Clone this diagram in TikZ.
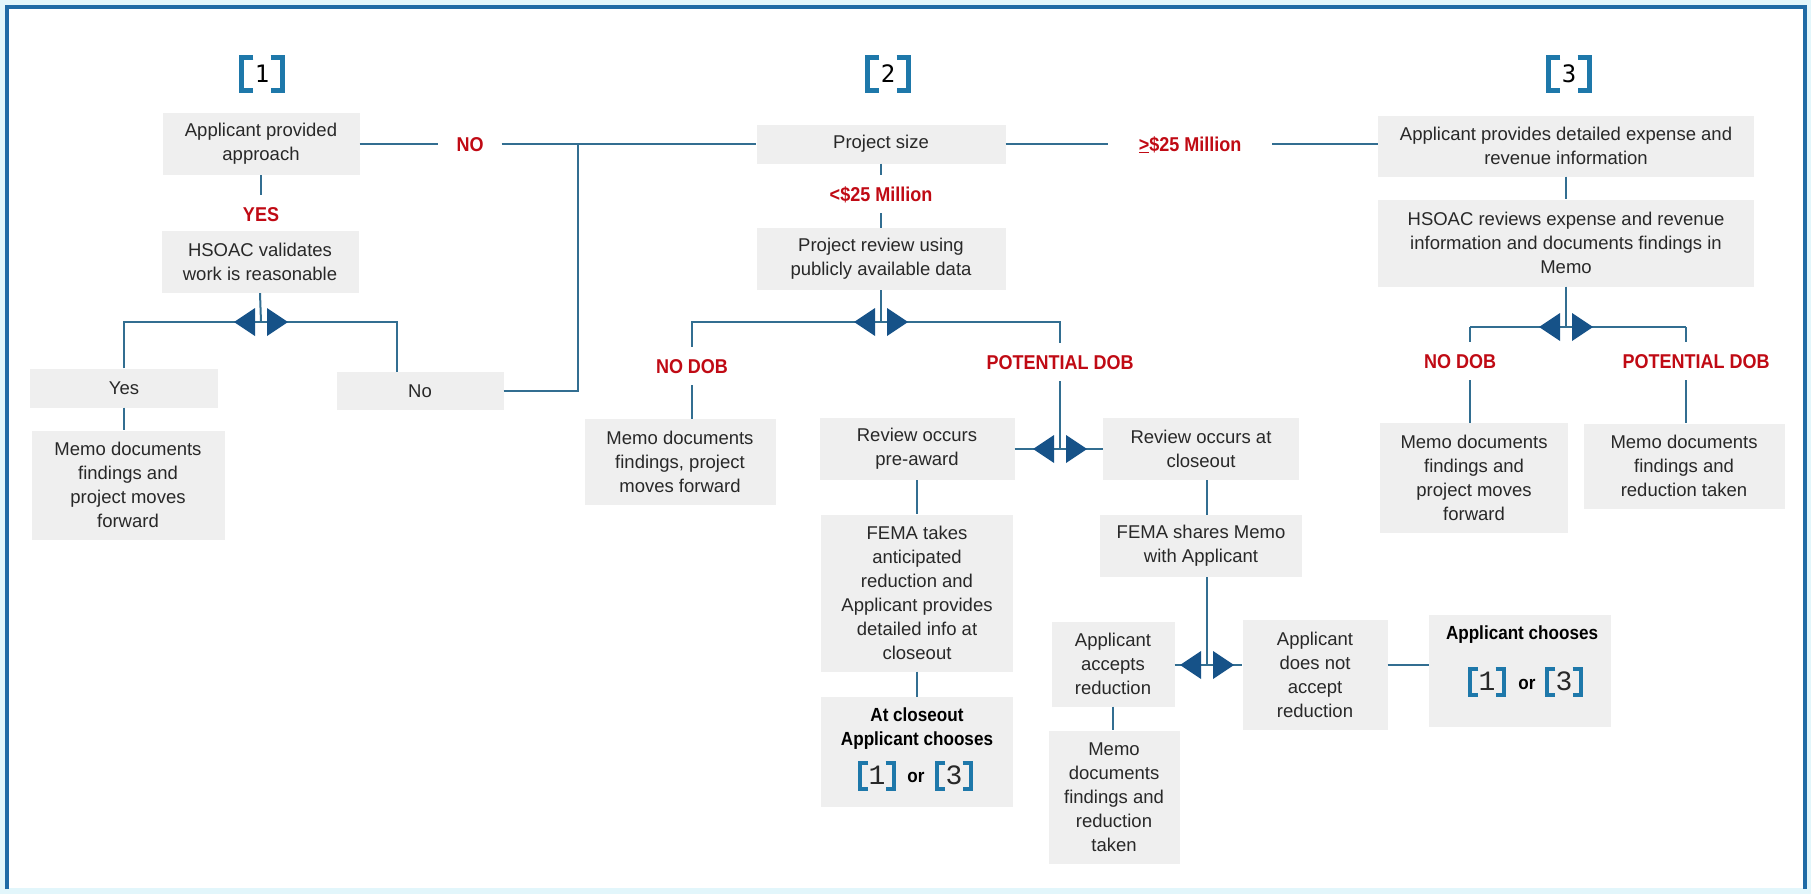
\documentclass[tikz,border=0pt]{standalone}
\usepackage{fontspec}
\setmainfont{Liberation Sans}
\newfontfamily\lblfont[FakeStretch=0.9]{Liberation Sans}
\newfontfamily\bignumfont{DejaVu Sans Mono}
\newfontfamily\smallnumfont{Liberation Mono}
\definecolor{frameblue}{RGB}{31,107,166}
\definecolor{bgcyan}{RGB}{226,246,251}
\definecolor{brkblue}{RGB}{30,120,170}
\definecolor{lineblue}{RGB}{50,110,145}
\definecolor{arrowblue}{RGB}{22,82,136}
\definecolor{redlbl}{RGB}{192,10,20}
\definecolor{boxgray}{RGB}{239,239,239}
\definecolor{txt}{RGB}{40,40,40}
\newcommand\bigbrk[3]{%
  \node[bignum] (#1) at #2 {#3};
  \draw[brkblue, line width=5pt] ([xshift=12pt]#1.north west) -- (#1.north west) -- (#1.south west) -- ([xshift=12pt]#1.south west);
  \draw[brkblue, line width=5pt] ([xshift=-12pt]#1.north east) -- (#1.north east) -- (#1.south east) -- ([xshift=-12pt]#1.south east);
}
\newcommand\smbrk[3]{%
  \node[smnum] (#1) at #2 {#3};
  \draw[brkblue, line width=4pt] ([xshift=8pt]#1.north west) -- (#1.north west) -- (#1.south west) -- ([xshift=8pt]#1.south west);
  \draw[brkblue, line width=4pt] ([xshift=-8pt]#1.north east) -- (#1.north east) -- (#1.south east) -- ([xshift=-8pt]#1.south east);
}
\begin{document}
\begin{tikzpicture}[x=1pt,y=-1pt,
  box/.style={fill=boxgray, text=txt, align=center, inner sep=0pt, font=\fontsize{18.5}{24}\selectfont},
  lbl/.style={text=redlbl, font=\lblfont\bfseries\fontsize{20}{24}\selectfont, inner xsep=18pt, inner ysep=12pt, text height=14pt, text depth=0pt},
  btxt/.style={text=black, align=center, inner sep=0pt, font=\lblfont\bfseries\fontsize{19}{24}\selectfont},
  conn/.style={draw=lineblue, line width=2pt},
  bignum/.style={minimum width=41pt, minimum height=33pt, inner sep=0pt, text height=17.5pt, text depth=0pt, text=black, font=\bignumfont\fontsize{24}{24}\selectfont},
  smnum/.style={minimum width=33pt, minimum height=25pt, inner sep=0pt, text height=17pt, text depth=0pt, text=txt, font=\smallnumfont\fontsize{28}{28}\selectfont},
  twin/.pic={\fill[arrowblue] (-6,-14) -- (-27,0) -- (-6,14) -- cycle;
             \fill[arrowblue] (6,-14) -- (27,0) -- (6,14) -- cycle;}
]
\useasboundingbox (0,0) rectangle (1811,894);
% frame
\fill[bgcyan] (0,0) rectangle (1811,894);
\fill[white] (9,9) rectangle (1803,888);
\draw[frameblue, line width=4pt] (7,889) -- (7,7) -- (1805,7) -- (1805,889);

% section markers
\bigbrk{m1}{(262,74)}{1}
\bigbrk{m2}{(888,74)}{2}
\bigbrk{m3}{(1569,74)}{3}

% column 1
\node[box, minimum width=197pt, minimum height=62pt] (b1) at (261,144) {Applicant provided\\approach};
\node[lbl] (nolbl) at (470,144) {NO};
\node[lbl] (yes) at (261,214) {YES};
\node[box, minimum width=197pt, minimum height=62pt] (b2) at (260,262) {HSOAC validates\\work is reasonable};
\node[box, minimum width=188pt, minimum height=39pt] (yesb) at (124,388) {Yes};
\node[box, minimum width=193pt, minimum height=109pt] (memo1) at (128,485) {Memo documents\\findings and\\project moves\\forward};
\node[box, minimum width=167pt, minimum height=38pt] (nob) at (420,391) {No};

% column 2
\node[box, minimum width=249pt, minimum height=39pt] (ps) at (881,144) {Project size};
\node[lbl] (lt) at (881,194) {<\$25 Million};
\node[lbl, inner xsep=31pt] (geq) at (1190,144) {\underline{>}\$25 Million};
\node[box, minimum width=249pt, minimum height=62pt] (pr) at (881,259) {Project review using\\publicly available data};
\node[lbl] (nodob2) at (692,366) {NO DOB};
\node[lbl] (potdob2) at (1060,362) {POTENTIAL DOB};
\node[box, minimum width=191pt, minimum height=86pt] (memo2) at (680,462) {Memo documents\\findings, project\\moves forward};
\node[box, minimum width=195pt, minimum height=62pt] (pre) at (917,449) {Review occurs\\pre-award};
\node[box, minimum width=196pt, minimum height=62pt] (close) at (1201,449) {Review occurs at\\closeout};
\node[box, minimum width=192pt, minimum height=157pt] (fema1) at (917,593) {FEMA takes\\anticipated\\reduction and\\Applicant provides\\detailed info at\\closeout};
\node[box, minimum width=192pt, minimum height=110pt] (atclose) at (917,752) {};
\node[btxt] (atclosetxt) at (917,729) {At closeout\\Applicant chooses};
\smbrk{ac1}{(877,776)}{1}
\node[btxt, anchor=base] (acor) at (916,782) {or};
\smbrk{ac3}{(954,776)}{3}
\node[box, minimum width=202pt, minimum height=62pt] (fema2) at (1201,546) {FEMA shares Memo\\with Applicant};
\node[box, minimum width=123pt, minimum height=85pt] (accepts) at (1113,664) {Applicant\\accepts\\reduction};
\node[box, minimum width=131pt, minimum height=133pt] (memo3) at (1114,797) {Memo\\documents\\findings and\\reduction\\taken};
\node[box, minimum width=145pt, minimum height=110pt] (notacc) at (1315,675) {Applicant\\does not\\accept\\reduction};
\node[box, minimum width=182pt, minimum height=112pt] (choose) at (1520,671) {};
\node[btxt] (choosetxt) at (1522,635) {Applicant chooses};
\smbrk{ch1}{(1487,682)}{1}
\node[btxt, anchor=base] (chor) at (1527,689) {or};
\smbrk{ch3}{(1564,682)}{3}

% column 3
\node[box, minimum width=376pt, minimum height=61pt] (b3a) at (1566,146) {Applicant provides detailed expense and\\revenue information};
\node[box, minimum width=376pt, minimum height=87pt] (b3b) at (1566,243) {HSOAC reviews expense and revenue\\information and documents findings in\\Memo};
\node[lbl] (nodob3) at (1460,361) {NO DOB};
\node[lbl] (potdob3) at (1696,361) {POTENTIAL DOB};
\node[box, minimum width=188pt, minimum height=110pt] (memo4) at (1474,478) {Memo documents\\findings and\\project moves\\forward};
\node[box, minimum width=201pt, minimum height=85pt] (memo5) at (1684,466) {Memo documents\\findings and\\reduction taken};

% junctions
\coordinate (j1) at (261,322);
\coordinate (j1r) at (397,322);
\coordinate (j2) at (578,144);
\coordinate (j3) at (881,322);
\coordinate (j4) at (1060,449);
\coordinate (j5) at (1207,665);
\coordinate (j6) at (1566,327);
\coordinate (l3) at (1470,327);
\coordinate (r3) at (1686,327);

% connectors column 1
\draw[conn] (b1.south) -- (yes.north);
\draw[conn] (b1.east) -- (nolbl.west);
\draw[conn] (nolbl.east) -- (ps.west);
\draw[conn] (b2.south) -- (j1);
\draw[conn] (yesb.north) |- (j1r) -- (nob.north -| j1r);
\draw[conn] (yesb.south) -- (yesb.south |- memo1.north);
\draw[conn] (nob.east) -| (j2);

% connectors column 2
\draw[conn] (ps.south) -- (lt.north);
\draw[conn] (lt.south) -- (pr.north);
\draw[conn] (ps.east) -- (geq.west);
\draw[conn] (geq.east) -- (geq.east -| b3a.west);
\draw[conn] (pr.south) -- (j3);
\draw[conn] (nodob2.north) |- (j3) -| (potdob2.north);
\draw[conn] (nodob2.south) -- (nodob2.south |- memo2.north);
\draw[conn] (potdob2.south) -- (j4);
\draw[conn] (pre.east) -- (close.west);
\draw[conn] (pre.south) -- (fema1.north);
\draw[conn] (fema1.south) -- (atclose.north);
\draw[conn] (close.south -| j5) -- (fema2.north -| j5);
\draw[conn] (fema2.south -| j5) -- (j5);
\draw[conn] (accepts.east |- j5) -- (notacc.west |- j5);
\draw[conn] (notacc.east |- j5) -- (choose.west |- j5);
\draw[conn] (accepts.south) -- (accepts.south |- memo3.north);

% connectors column 3
\draw[conn] (b3a.south) -- (b3b.north);
\draw[conn] (b3b.south) -- (j6);
\draw[conn] (l3) -- (r3);
\draw[conn] (l3) -- (l3 |- nodob3.north);
\draw[conn] (r3) -- (r3 |- potdob3.north);
\draw[conn] (nodob3.south -| l3) -- (memo4.north -| l3);
\draw[conn] (potdob3.south -| r3) -- (memo5.north -| r3);

% split arrows
\pic at (j1) {twin};
\pic at (j3) {twin};
\pic at (j4) {twin};
\pic at (j5) {twin};
\pic at (j6) {twin};
\end{tikzpicture}
\end{document}
